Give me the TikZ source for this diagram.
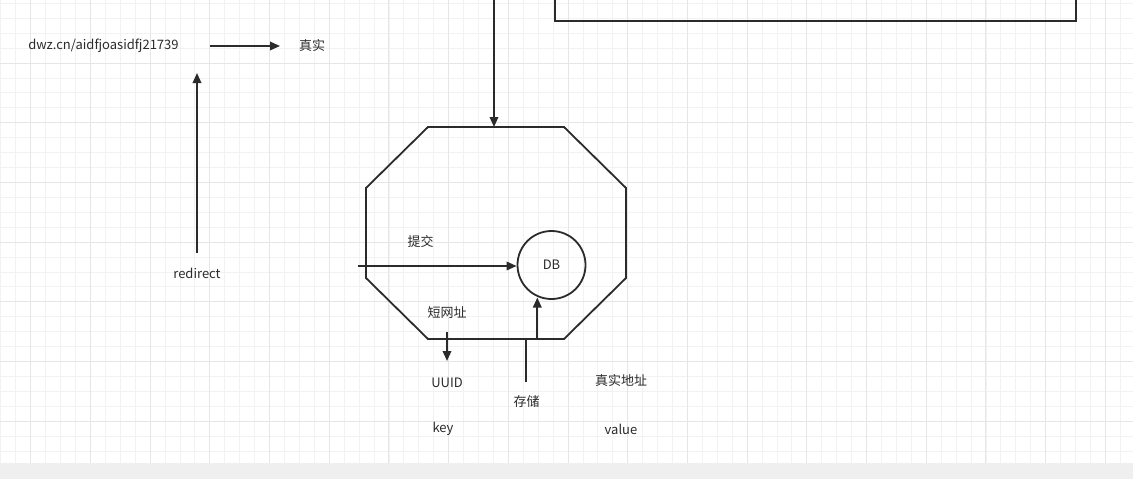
\documentclass[tikz,border=0pt]{standalone}
\usepackage{fontspec}
\setmainfont{Noto Sans CJK SC}
\usetikzlibrary{arrows.meta}
\definecolor{ink}{HTML}{2B2B2B}
\definecolor{gminor}{HTML}{F2F2F2}
\definecolor{gmajor}{HTML}{E6E6E6}
\definecolor{barc}{HTML}{EFEFEF}
\begin{document}
\begin{tikzpicture}[x=1pt,y=-1pt,
  lbl/.style={inner sep=0pt, font=\fontsize{13}{15}\selectfont, text=ink},
  conn/.style={draw=ink, line width=1.8pt, -{Triangle[length=10pt,width=8.5pt]}},
  shapeline/.style={draw=ink, line width=1.8pt, line join=miter},
  minorline/.style={draw=gminor, line width=0.8pt},
  majorline/.style={draw=gmajor, line width=0.9pt}]
\useasboundingbox (0,0) rectangle (1133,479);
\fill[white] (0,0) rectangle (1133,479);
% grid
\foreach \n in {-2,...,74} \draw[minorline] ({30.7+14.925*\n},0) -- ({30.7+14.925*\n},463);
\foreach \n in {-4,...,26} \draw[minorline] (0,{63+14.925*\n}) -- (1133,{63+14.925*\n});
\foreach \n in {0,...,18} \draw[majorline] ({30.7+59.7*\n},0) -- ({30.7+59.7*\n},463);
\foreach \n in {0,...,6} \draw[majorline] (0,{63+59.7*\n}) -- (1133,{63+59.7*\n});
\fill[barc] (0,463) rectangle (1133,479);

% top-right box
\draw[shapeline] (555,-5) -- (555,20.7) -- (1076,20.7) -- (1076,-5);

% texts top-left
\node[lbl] (url) at (103.5,46) {dwz.cn/aidfjoasidfj21739};
\node[lbl] (real) at (312,46) {真实};
\coordinate (ua) at (210,46);
\coordinate (ub) at (280,46);
\draw[conn] (ua) -- (ub);
\node[lbl] (redir) at (197,273) {redirect};
\coordinate (ra) at (197,253);
\coordinate (rb) at (197,73);
\draw[conn] (ra) -- (rb);

% octagon
\draw[shapeline] (428,127) -- (564,127) -- (626,188) -- (626,278) -- (564,339) -- (428,339) -- (366,278) -- (366,188) -- cycle;
\coordinate (topin) at (494,-2);
\coordinate (octtop) at (494,127);
\draw[conn] (topin) -- (octtop);

% DB
\node[circle, draw=ink, line width=1.8pt, minimum size=68pt, inner sep=0pt, font=\fontsize{13}{15}\selectfont, text=ink] (db) at (551.5,265) {DB};
\coordinate (sa) at (358,266);
\draw[conn] (sa) -- (sa -| db.west);
\node[lbl] (tj) at (420.5,241.5) {提交};

\node[lbl] (dwz) at (447,312.5) {短网址};
\coordinate (da) at (447,332);
\coordinate (db2) at (447,361);
\draw[conn] (da) -- (db2);

\node[lbl] (uuid) at (447,383) {UUID};
\node[lbl] (key) at (443,429) {key};

\coordinate (st0) at (526,382);
\coordinate (dbin) at (537.3,297.5);
\draw[conn] (st0) -- (526,339) -- (537.3,339) -- (dbin);
\node[lbl] (cc) at (526.5,401.5) {存储};

\node[lbl] (addr) at (621,381) {真实地址};
\node[lbl] (val) at (621,429) {value};
\end{tikzpicture}
\end{document}
